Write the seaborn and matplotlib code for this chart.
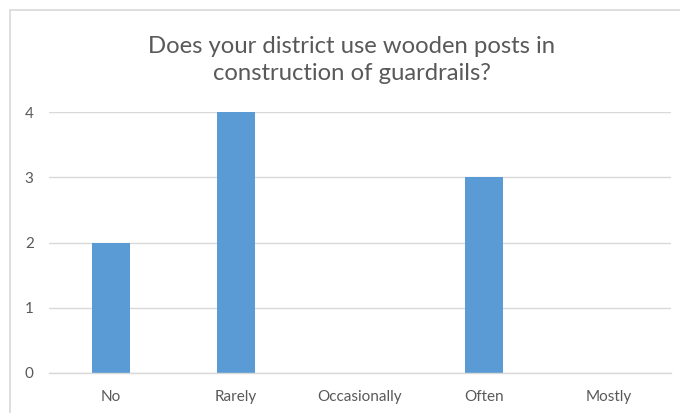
import matplotlib
matplotlib.use("Agg")
import matplotlib.pyplot as plt
from matplotlib.patches import Rectangle
import seaborn as sns
import pandas as pd

categories = ["No", "Rarely", "Occasionally", "Often", "Mostly"]
counts = [2, 4, 0, 3, 0]
y_ticks = [0, 1, 2, 3, 4]
title = "Does your district use wooden posts in\nconstruction of guardrails?"

sns.set_theme(style="white")
plt.rcParams["font.family"] = ["Lato", "DejaVu Sans"]

df = pd.DataFrame({"category": categories, "count": counts})

W, H = 680, 413
fig = plt.figure(figsize=(W / 100, H / 100), dpi=100)
ax = fig.add_axes([49 / W, 1 - 373 / H, (671 - 49) / W, (373 - 112) / H])

sns.barplot(data=df, x="category", y="count", color="#5B9BD5",
            width=0.305, saturation=1, linewidth=0, ax=ax, order=categories)

ax.set_ylim(0, 4)
ax.set_yticks(y_ticks)
ax.yaxis.grid(True, color="#D9D9D9", linewidth=1)
ax.set_axisbelow(True)
for side in ["top", "right", "left"]:
    ax.spines[side].set_visible(False)
ax.spines["bottom"].set_color("#D9D9D9")
ax.spines["bottom"].set_linewidth(1)
ax.set_xlabel("")
ax.set_ylabel("")
ax.tick_params(axis="both", length=0, labelsize=11, colors="#595959")
ax.tick_params(axis="x", pad=12)
ax.tick_params(axis="y", pad=11)

fig.text(352 / W, 1 - 60 / H, title, ha="center", va="center",
         fontsize=17.2, color="#595959", linespacing=1.4)

# chart frame
fig.patches.append(Rectangle((10 / W, -0.1), 1.2, 1 - 10 / H + 0.1,
                             transform=fig.transFigure, fill=False,
                             edgecolor="#D9D9D9", linewidth=1.2))

fig.savefig("out.png", dpi=100)
